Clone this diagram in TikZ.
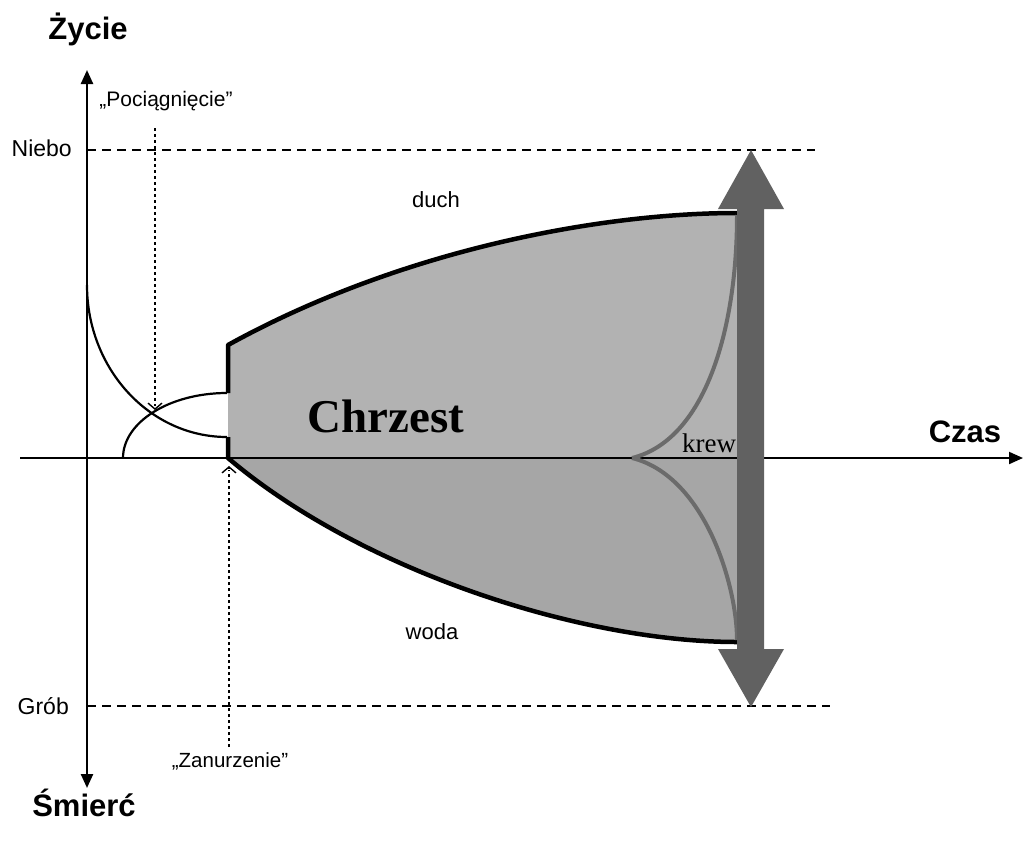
\documentclass[tikz,border=0pt]{standalone}
\usepackage{fontspec}
\setmainfont{Liberation Sans}
\newfontfamily\seriffont{Liberation Serif}
\usetikzlibrary{arrows.meta,calc}
\definecolor{upfill}{gray}{0.70}
\definecolor{lowfill}{gray}{0.65}
\definecolor{bigarrow}{gray}{0.38}
\definecolor{krewgray}{gray}{0.42}
\tikzset{
  axisline/.style={line width=2.4pt},
  axistip/.style={-{Triangle[length=14pt,width=12pt]}},
  dashline/.style={line width=1.5pt, dash pattern=on 9pt off 6pt},
  dotline/.style={line width=2.6pt, dash pattern=on 2.6pt off 3.4pt},
  tiponly/.style={line width=1.4pt, -{Straight Barb[length=6pt,width=14pt]}},
  outline/.style={line width=4.5pt, line join=round},
  thinc/.style={line width=2.2pt},
  krewline/.style={line width=4pt, krewgray},
  lbl/.style={inner sep=0pt, font=\fontsize{23}{25}\selectfont},
  big/.style={inner sep=0pt, font=\fontsize{31}{33}\bfseries\selectfont},
}
\begin{document}
\begin{tikzpicture}[x=1pt,y=-1pt]
\useasboundingbox (0,0) rectangle (1024,843);
% coordinates
\coordinate (ytop) at (87,70);
\coordinate (ybot) at (87,788);
\coordinate (xl) at (20,458);
\coordinate (xr) at (1023,458);
\coordinate (nieboL) at (87,150);
\coordinate (nieboR) at (815,150);
\coordinate (grobL) at (87,706);
\coordinate (grobR) at (830,706);
\coordinate (A) at (228,458);
\coordinate (B) at (228,345);
\coordinate (B2) at (228,393);
\coordinate (B3) at (228,437);
\coordinate (TR) at (737,213);
\coordinate (BR) at (737,642);
\coordinate (RM) at (740,458);
\coordinate (K) at (632,458);
% fills
\fill[upfill] (A) -- (B) .. controls (400,250) and (600,213) .. (TR) -- (740,213) -- (RM) -- cycle;
\fill[lowfill] (A) .. controls (360,570) and (580,642) .. (BR) -- (740,642) -- (RM) -- cycle;
% dashed lines
\draw[dashline] (nieboL) -- (nieboR);
\draw[dashline] (grobL) -- (grobR);
% axes
\draw[axisline, {Triangle[length=14pt,width=12pt]}-{Triangle[length=14pt,width=12pt]}] (ybot) -- (ytop);
\draw[line width=2pt, axistip] (xl) -- (xr);
% small curves
\draw[thinc] (87,285) arc[start angle=180, end angle=90, x radius=140, y radius=152];
\draw[thinc] (123,458) arc[start angle=180, end angle=270, x radius=104, y radius=65];
% outline
\draw[outline] (B2) -- (B) .. controls (400,250) and (600,213) .. (TR);
\draw[outline] (B3) -- (A) .. controls (360,570) and (580,642) .. (BR);
% krew curves
\draw[krewline] (K) .. controls (705,440) and (737,330) .. (737,215);
\draw[krewline] (K) .. controls (705,476) and (737,586) .. (737,640);
% big double arrow
\fill[bigarrow] (737,209) -- (718,209) -- (751,150) -- (784,209) -- (764,209) -- (764,649) -- (784,649) -- (751,707) -- (718,649) -- (737,649) -- cycle;
% labels
\node[big] (zycie) at (88,29) {Życie};
\node[big] (smierc) at (84,803) {Śmierć};
\node[big] (czas) at (965,432) {Czas};
\node[lbl, anchor=east] (niebo) at (72,148) {Niebo};
\node[lbl, anchor=east] (grob) at (69,706) {Grób};
\node[inner sep=0pt, font=\fontsize{21}{23}\selectfont] (pocia) at (166,101) {„Pociągnięcie”};
\node[inner sep=0pt, font=\fontsize{20.5}{22}\selectfont] (zanu) at (230,761) {„Zanurzenie”};
\node[inner sep=0pt, font=\fontsize{22}{24}\selectfont] (duch) at (436,200) {duch};
\node[inner sep=0pt, font=\fontsize{22}{24}\selectfont] (woda) at (432,632) {woda};
\node[inner sep=0pt, font=\fontsize{47}{50}\bfseries\seriffont] (chrzest) at (386,416) {Chrzest};
\node[inner sep=0pt, font=\fontsize{27}{29}\seriffont] (krew) at (709,443) {krew};
% dotted arrows
\coordinate (p1) at (155,128);
\coordinate (p2) at (155,410);
\coordinate (z1) at (229,747);
\coordinate (z2) at (229,466);
\draw[dotline] (p1) -- ($(p2)+(0,-4)$);
\draw[tiponly] ($(p2)+(0,-2)$) -- (p2);
\draw[dotline] (z1) -- ($(z2)+(0,4)$);
\draw[tiponly] ($(z2)+(0,2)$) -- (z2);
\end{tikzpicture}
\end{document}
